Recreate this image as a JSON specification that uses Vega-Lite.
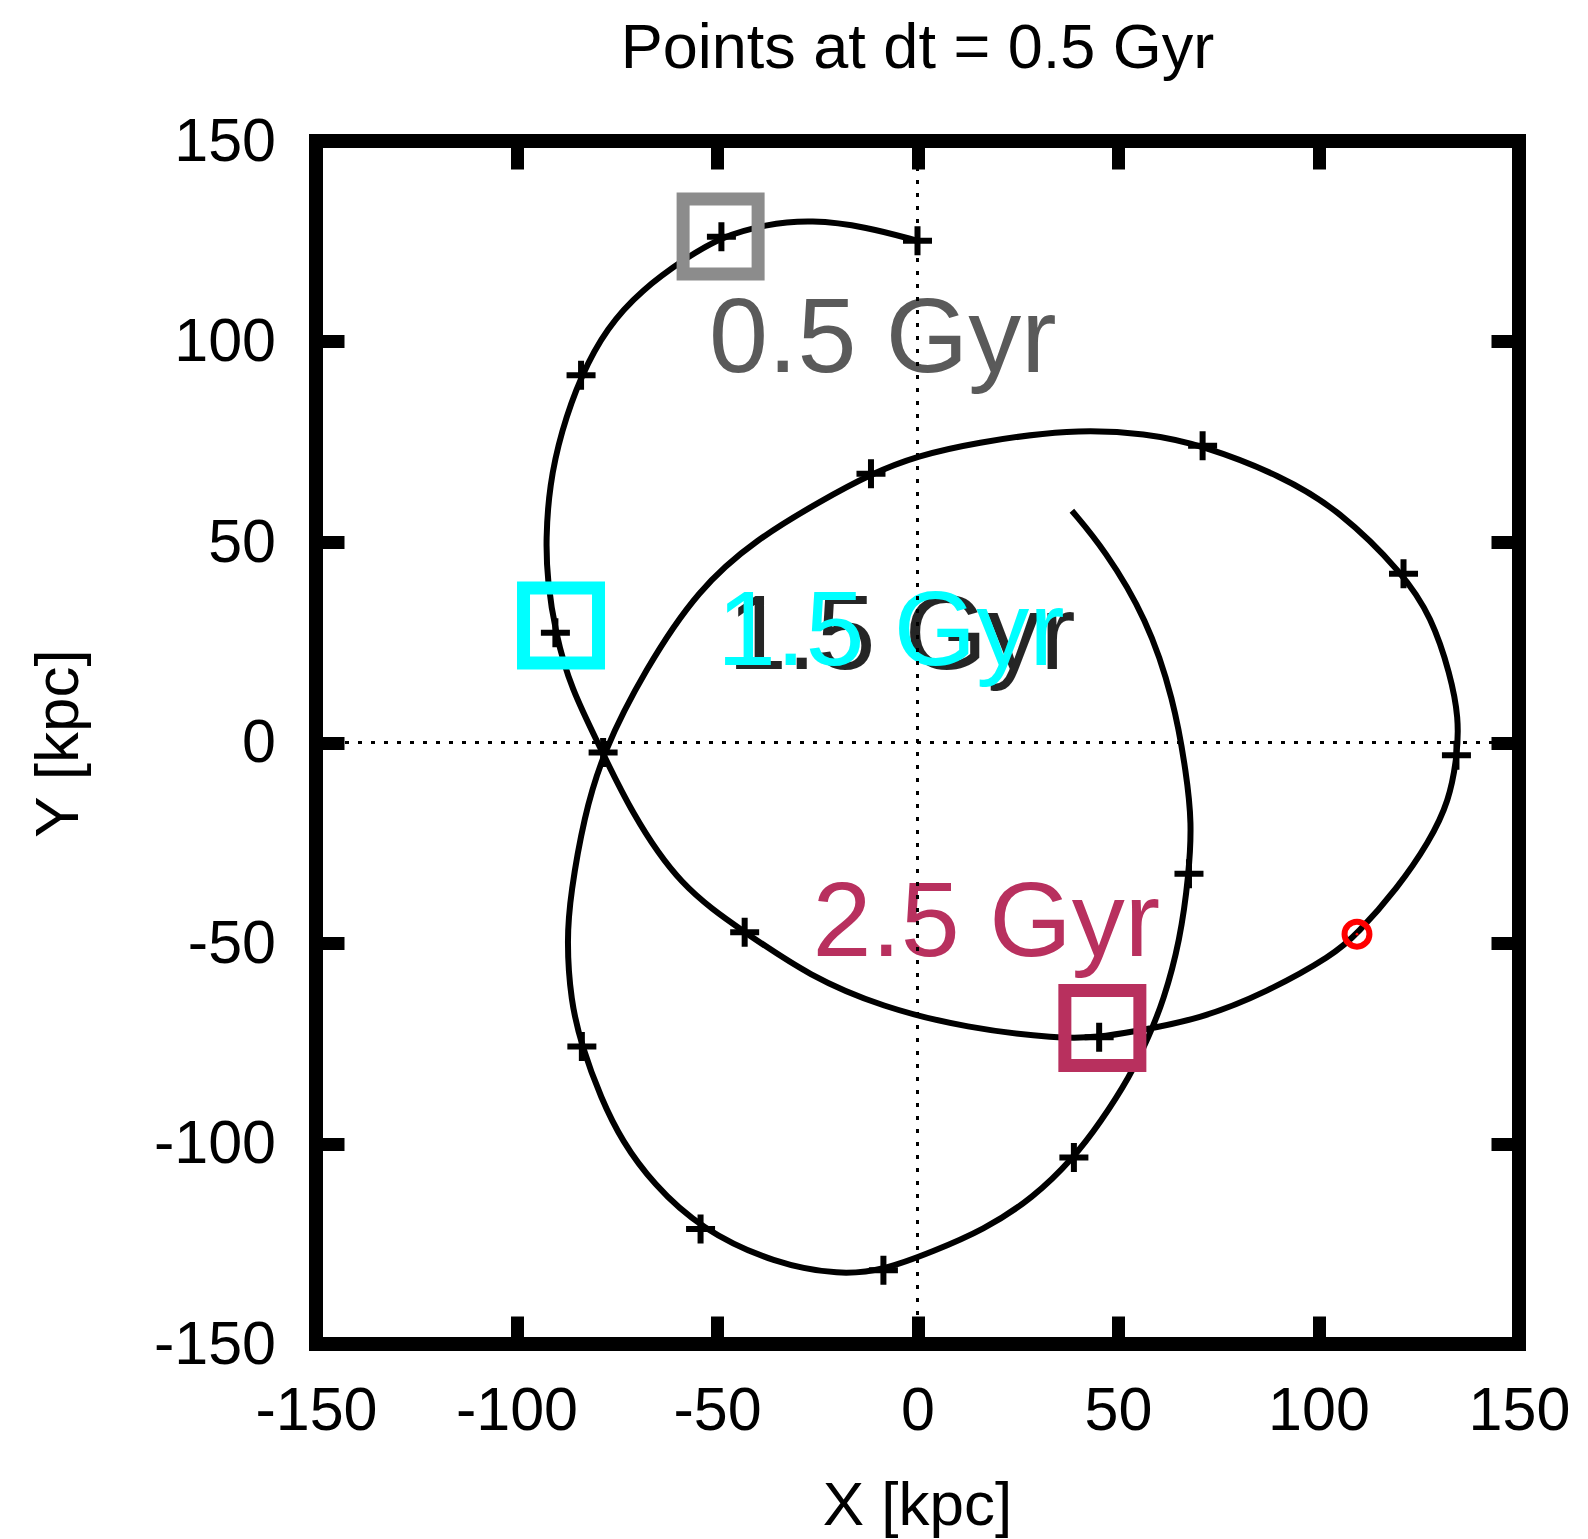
{
  "$schema": "https://vega.github.io/schema/vega-lite/v6.json",
  "width": 1203,
  "height": 1203,
  "autosize": {"type": "none"},
  "padding": {"left": 316, "top": 141, "right": 69, "bottom": 195},
  "background": "white",
  "config": {
    "view": {"stroke": "black", "strokeWidth": 14},
    "axis": {
      "grid": false, "domain": false, "tickColor": "black", "tickWidth": 13, "tickSize": -28,
      "labelFont": "Liberation Sans", "labelFontSize": 61, "labelColor": "black",
      "labelFlush": false, "labelOverlap": false, "labelExpr": "'' + datum.value",
      "titleFont": "Liberation Sans", "titleFontSize": 62, "titleFontWeight": "normal", "titleColor": "black"
    }
  },
  "title": {
    "text": "Points at dt = 0.5 Gyr", "font": "Liberation Sans", "fontSize": 63, "fontWeight": "normal",
    "color": "black", "anchor": "middle", "frame": "group", "baseline": "alphabetic", "offset": -20
  },
  "datasets": {
    "orbit": [
      {"i":1,"x":0.0,"y":125.1},{"i":2,"x":-12.7,"y":128.6},{"i":3,"x":-26.5,"y":130.4},{"i":4,"x":-38.0,"y":129.2},
      {"i":5,"x":-48.9,"y":126.1},{"i":6,"x":-57.5,"y":121.0},{"i":7,"x":-68.9,"y":112.8},{"i":8,"x":-77.5,"y":103.4},
      {"i":9,"x":-83.9,"y":91.6},{"i":10,"x":-88.9,"y":77.5},{"i":11,"x":-91.8,"y":64.1},{"i":12,"x":-92.7,"y":50.7},
      {"i":13,"x":-92.3,"y":40.3},{"i":14,"x":-90.3,"y":27.4},{"i":15,"x":-86.6,"y":13.8},{"i":16,"x":-78.5,"y":-2.5},
      {"i":17,"x":-71.7,"y":-16.8},{"i":18,"x":-59.4,"y":-35.9},{"i":19,"x":-43.1,"y":-47.3},{"i":20,"x":-26.9,"y":-58.3},
      {"i":21,"x":-8.8,"y":-66.0},{"i":22,"x":12.3,"y":-71.2},{"i":23,"x":35.1,"y":-73.9},{"i":24,"x":45.3,"y":-73.5},
      {"i":25,"x":53.8,"y":-72.1},{"i":26,"x":70.4,"y":-69.0},{"i":27,"x":87.1,"y":-62.3},{"i":28,"x":103.7,"y":-53.0},
      {"i":29,"x":109.6,"y":-47.8},{"i":30,"x":119.8,"y":-36.2},{"i":31,"x":127.6,"y":-24.8},{"i":32,"x":132.6,"y":-14.6},
      {"i":33,"x":134.6,"y":-3.2},{"i":34,"x":135.0,"y":6.0},{"i":35,"x":132.9,"y":17.0},{"i":36,"x":128.2,"y":31.2},
      {"i":37,"x":121.2,"y":42.1},{"i":38,"x":105.1,"y":58.0},{"i":39,"x":90.8,"y":66.5},{"i":40,"x":71.1,"y":74.1},
      {"i":41,"x":57.2,"y":77.1},{"i":42,"x":38.0,"y":78.2},{"i":43,"x":14.0,"y":74.7},{"i":44,"x":0.0,"y":71.5},
      {"i":45,"x":-11.6,"y":67.0},{"i":46,"x":-24.0,"y":60.3},{"i":47,"x":-40.2,"y":50.7},{"i":48,"x":-54.6,"y":38.4},
      {"i":49,"x":-67.9,"y":18.3},{"i":50,"x":-78.5,"y":-2.5},{"i":51,"x":-83.2,"y":-18.7},{"i":52,"x":-86.5,"y":-37.6},
      {"i":53,"x":-87.5,"y":-49.2},{"i":54,"x":-86.5,"y":-64.5},{"i":55,"x":-83.7,"y":-75.8},{"i":56,"x":-78.9,"y":-88.8},
      {"i":57,"x":-73.7,"y":-99.4},{"i":58,"x":-66.0,"y":-110.0},{"i":59,"x":-54.1,"y":-121.3},{"i":60,"x":-35.5,"y":-130.0},
      {"i":61,"x":-19.3,"y":-132.8},{"i":62,"x":-8.5,"y":-131.6},{"i":63,"x":3.9,"y":-126.9},{"i":64,"x":16.4,"y":-121.6},
      {"i":65,"x":28.9,"y":-113.6},{"i":66,"x":39.0,"y":-103.5},{"i":67,"x":45.5,"y":-94.9},{"i":68,"x":53.0,"y":-83.3},
      {"i":69,"x":57.6,"y":-73.5},{"i":70,"x":61.3,"y":-64.6},{"i":71,"x":65.5,"y":-49.4},{"i":72,"x":67.7,"y":-32.7},
      {"i":73,"x":68.4,"y":-20.0},{"i":74,"x":67.1,"y":-8.0},{"i":75,"x":63.9,"y":10.8},{"i":76,"x":57.2,"y":30.9},
      {"i":77,"x":46.6,"y":48.2},{"i":78,"x":38.5,"y":57.8}
    ],
    "markers": [
      {"x":0.0,"y":125.1},{"x":-48.9,"y":126.1},{"x":-83.9,"y":91.6},{"x":-90.3,"y":27.4},
      {"x":-78.4,"y":-2.5},{"x":-43.1,"y":-47.3},{"x":45.3,"y":-73.5},{"x":134.4,"y":-3.2},
      {"x":121.2,"y":42.1},{"x":71.1,"y":74.0},{"x":-11.6,"y":67.0},{"x":-83.7,"y":-75.8},
      {"x":-54.1,"y":-121.3},{"x":-8.5,"y":-131.6},{"x":39.0,"y":-103.5},{"x":67.7,"y":-32.7}
    ],
    "boxes": [
      {"b":"0.5","x":-49.1,"y":126.2},{"b":"1.5","x":-88.9,"y":29.2},{"b":"2.5","x":46.1,"y":-71.2}
    ],
    "labels": [
      {"b":"0.5","x":-52.0,"y":92.4,"t":"0.5 Gyr"},
      {"b":"1.5","x":-50.0,"y":19.3,"t":"1.5 Gyr"},
      {"b":"2.5","x":-26.2,"y":-53.2,"t":"2.5 Gyr"}
    ],
    "shadow": [{"x":-50.0,"y":19.3,"t":"1.5 Gyr"}],
    "now": [{"x":109.6,"y":-47.8}],
    "zero": [{"v":0}]
  },
  "layer": [
    {
      "data": {"name": "shadow"},
      "mark": {"type": "text", "font": "Liberation Sans", "fontSize": 106, "align": "left", "baseline": "alphabetic", "dx": 11, "dy": 4, "color": "black", "opacity": 0.85},
      "encoding": {
        "x": {"field": "x", "type": "quantitative", "scale": {"domain": [-150, 150], "nice": false, "zero": false}, "axis": null},
        "y": {"field": "y", "type": "quantitative", "scale": {"domain": [-150, 150], "nice": false, "zero": false}, "axis": null},
        "text": {"field": "t"}
      }
    },
    {
      "data": {"name": "labels"},
      "mark": {"type": "text", "font": "Liberation Sans", "fontSize": 106, "align": "left", "baseline": "alphabetic"},
      "encoding": {
        "x": {"field": "x", "type": "quantitative", "axis": null},
        "y": {"field": "y", "type": "quantitative", "axis": null},
        "text": {"field": "t"},
        "fill": {"field": "b", "type": "nominal", "scale": {"domain": ["0.5","1.5","2.5"], "range": ["#5a5a5a","#00ffff","#b8305e"]}, "legend": null}
      }
    },
    {
      "data": {"name": "zero"},
      "mark": {"type": "rule", "color": "black", "strokeWidth": 3, "strokeDash": [4, 9]},
      "encoding": {"x": {"field": "v", "type": "quantitative", "axis": null}}
    },
    {
      "data": {"name": "zero"},
      "mark": {"type": "rule", "color": "black", "strokeWidth": 3, "strokeDash": [4, 9]},
      "encoding": {"y": {"field": "v", "type": "quantitative", "axis": null}}
    },
    {
      "data": {"name": "orbit"},
      "mark": {"type": "line", "color": "black", "strokeWidth": 6, "interpolate": "basis"},
      "encoding": {
        "x": {"field": "x", "type": "quantitative", "axis": {"orient": "bottom", "values": [-150,-100,-50,0,50,100,150], "labelBaseline": "alphabetic", "labelPadding": 113, "title": "X [kpc]", "titleBaseline": "alphabetic", "titleX": 601, "titleY": 180, "titleAlign": "center"}},
        "y": {"field": "y", "type": "quantitative", "axis": {"orient": "left", "values": [-150,-100,-50,0,50,100,150], "labelAlign": "right", "labelBaseline": "alphabetic", "labelPadding": 68.5, "labelOffset": 19, "title": "Y [kpc]", "titleAngle": 270, "titleBaseline": "alphabetic", "titleX": -239, "titleY": 602, "titleAlign": "center"}},
        "order": {"field": "i", "type": "quantitative"}
      }
    },
    {
      "data": {"name": "markers"},
      "mark": {"type": "point", "shape": "M-1,0H1M0,-1V1", "size": 841, "filled": false, "stroke": "black", "strokeWidth": 6, "opacity": 1},
      "encoding": {
        "x": {"field": "x", "type": "quantitative", "axis": {"orient": "top", "values": [-150,-100,-50,0,50,100,150], "labels": false, "title": null}},
        "y": {"field": "y", "type": "quantitative", "axis": {"orient": "right", "values": [-150,-100,-50,0,50,100,150], "labels": false, "title": null}}
      }
    },
    {
      "data": {"name": "boxes"},
      "mark": {"type": "point", "shape": "square", "size": 5625, "filled": false, "strokeWidth": 13, "opacity": 1},
      "encoding": {
        "x": {"field": "x", "type": "quantitative", "axis": null},
        "y": {"field": "y", "type": "quantitative", "axis": null},
        "stroke": {"field": "b", "type": "nominal", "scale": {"domain": ["0.5","1.5","2.5"], "range": ["#8c8c8c","#00ffff","#b8305e"]}, "legend": null}
      }
    },
    {
      "data": {"name": "now"},
      "mark": {"type": "point", "shape": "circle", "size": 620, "filled": false, "stroke": "#ff0000", "strokeWidth": 6, "opacity": 1},
      "encoding": {
        "x": {"field": "x", "type": "quantitative", "axis": null},
        "y": {"field": "y", "type": "quantitative", "axis": null}
      }
    },
    {
      "data": {"name": "now"},
      "mark": {"type": "point", "shape": "circle", "size": 8, "filled": true, "fill": "#ff0000", "strokeWidth": 0, "opacity": 1},
      "encoding": {
        "x": {"field": "x", "type": "quantitative", "axis": null},
        "y": {"field": "y", "type": "quantitative", "axis": null}
      }
    }
  ],
  "resolve": {"axis": {"x": "independent", "y": "independent"}}
}
